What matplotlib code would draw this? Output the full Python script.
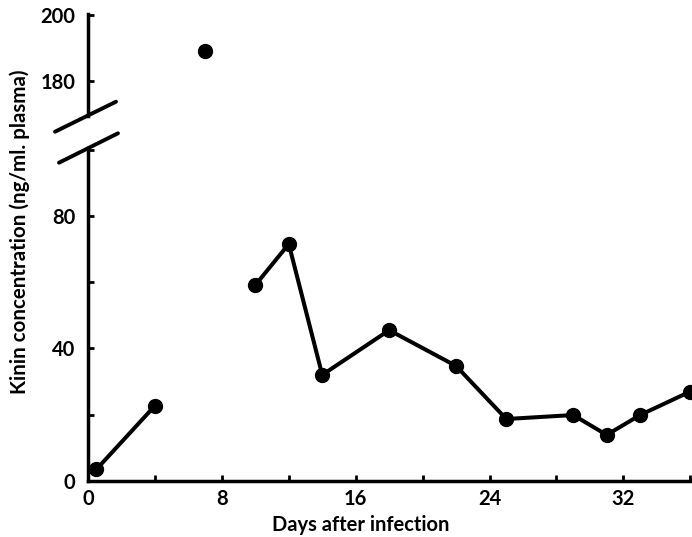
import matplotlib
matplotlib.use("Agg")
import matplotlib.pyplot as plt
from matplotlib.lines import Line2D

plt.rcParams['font.family'] = ['Lato', 'DejaVu Sans']
plt.rcParams['font.weight'] = 'bold'

# kinin readings
days_early = [0.5, 4]
kinin_early = [3.5, 22.7]
days_peak = [7]
kinin_peak = [189.2]
days_late = [10, 12, 14, 18, 22, 25, 29, 31, 33, 36]
kinin_late = [59.1, 71.5, 32, 45.5, 34.7, 18.7, 19.9, 13.9, 19.9, 27]

x_ticks = [0, 8, 16, 24, 32]
low_ticks = [0, 40, 80]
high_ticks = [180, 200]

W, H = 692, 537
fig = plt.figure(figsize=(W / 100, H / 100), dpi=100)

# pixel positions of the two axes (left, top, right, bottom)
def px_axes(left, top, right, bottom):
    return fig.add_axes([left / W, 1 - bottom / H, (right - left) / W, (bottom - top) / H])

ax_lo = px_axes(88, 148.2, 692, 481)
ax_hi = px_axes(88, 13.5, 692, 115.5)

lw = 2.5
for ax in (ax_lo, ax_hi):
    ax.set_xlim(0, 36.1)
    for s in ('top', 'right'):
        ax.spines[s].set_visible(False)
    ax.spines['left'].set_linewidth(lw)
    ax.spines['bottom'].set_linewidth(lw)
    ax.tick_params(direction='in', length=4, width=2, labelsize=14.5, pad=9)
    ax.set_facecolor('none')

ax_hi.spines['bottom'].set_visible(False)
ax_hi.tick_params(axis='x', bottom=False, labelbottom=False)

ax_lo.set_ylim(0, 100.4)
ax_hi.set_ylim(169.8, 200.3)

ax_lo.set_xticks(range(0, 37, 4), minor=True)
ax_lo.set_xticks(x_ticks)
ax_lo.set_yticks(range(0, 101, 20), minor=True)
ax_lo.set_yticks(low_ticks)
ax_hi.set_yticks(high_ticks)
ax_lo.tick_params(which='minor', direction='in', length=4, width=2)
ax_lo.tick_params(axis='x', pad=6)

style = dict(color='black', lw=2.9, marker='o', markersize=10, clip_on=True)
ax_lo.plot(days_early, kinin_early, **style)
ax_lo.plot(days_late, kinin_late, **style)
ax_hi.plot(days_peak, kinin_peak, **style)

ax_lo.set_xlabel('Days after infection', fontsize=14.5, fontweight='bold')
ax_lo.xaxis.set_label_coords((361 - 88) / 604, -(515 - 481) / 333)
fig.text(20 / W, 1 - 232 / H, 'Kinin concentration (ng/ml. plasma)',
         rotation=90, ha='center', va='center', fontsize=14.8, fontweight='bold')

# break marks on the y axis
for (x0, y0, x1, y1) in [(55, 131.7, 116, 101.7), (59, 162.7, 118, 133.3)]:
    fig.add_artist(Line2D([x0 / W, x1 / W], [1 - y0 / H, 1 - y1 / H],
                          color='black', lw=2.8, solid_capstyle='round'))

fig.savefig('out.png', dpi=100)
